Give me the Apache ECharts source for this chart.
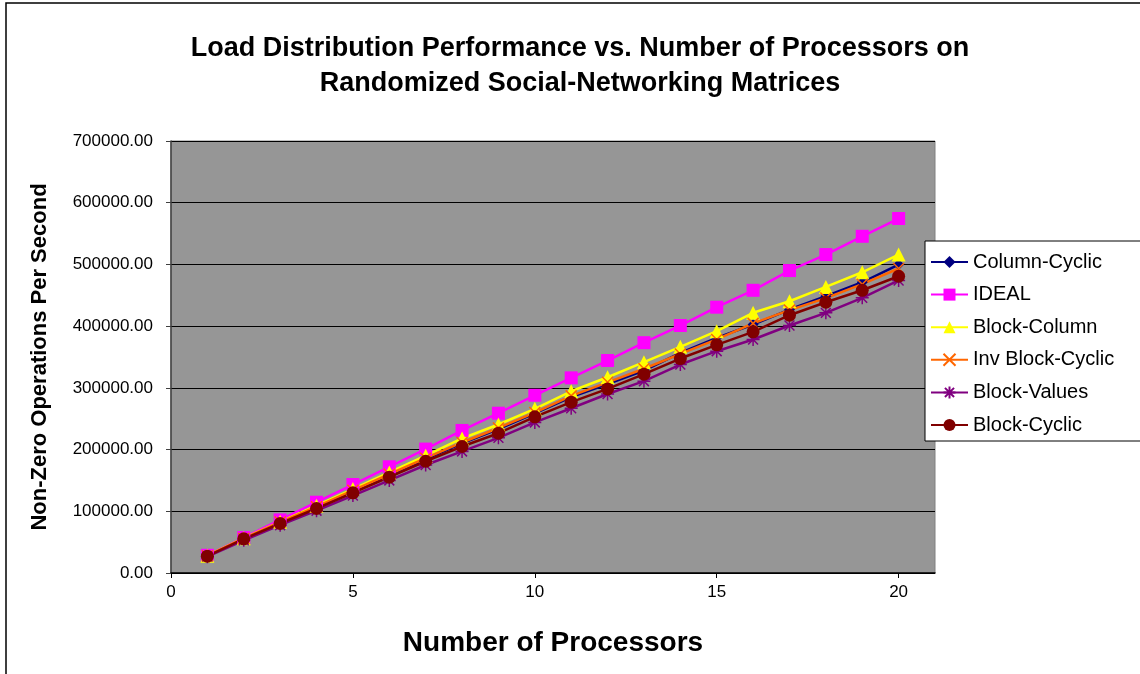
<!DOCTYPE html>
<html>
<head>
<meta charset="utf-8">
<script src="https://cdn.jsdelivr.net/npm/echarts@6/dist/echarts.min.js"></script>
<style>
  html, body { margin: 0; padding: 0; background: #ffffff; }
  #chart { width: 1140px; height: 674px; }
</style>
</head>
<body>
<div id="chart"></div>
<script>
// Processor counts (x values)
const processors = [1, 2, 3, 4, 5, 6, 7, 8, 9, 10, 11, 12, 13, 14, 15, 16, 17, 18, 19, 20];

// Non-zero operations per second for each distribution scheme
const columnCyclic = [27800, 55800, 81500, 106500, 132500, 158500, 184500, 210000, 233000, 258500,
                      285000, 306000, 328000, 356800, 381100, 402600, 426900, 448400, 471100, 499800];
const ideal = [28700, 57400, 86000, 114700, 143400, 172100, 200800, 231000, 258900, 288000,
               316200, 344300, 373200, 401000, 430700, 458100, 490100, 516000, 545600, 574400];
const blockColumn = [28000, 56500, 83000, 109000, 136000, 163000, 190000, 218000, 240600, 266000,
                     294500, 317200, 341600, 366500, 391800, 421600, 440300, 463600, 487300, 516000];
const invBlockCyclic = [28000, 56000, 82500, 107500, 134000, 160000, 186000, 211500, 235000, 260000,
                        287000, 309000, 331000, 355000, 378500, 404500, 426000, 445500, 468000, 493400];
const blockValues = [26500, 53000, 77500, 101000, 125500, 150000, 175000, 197000, 219000, 244000,
                     266900, 290000, 310800, 337800, 359400, 378300, 401000, 421500, 445900, 474000];
const blockCyclic = [27200, 55400, 80200, 104500, 129900, 155200, 181100, 205000, 226500, 253000,
                     276800, 298300, 322200, 347500, 369700, 390800, 417700, 438700, 458100, 480800];

const xTicks = [0, 5, 10, 15, 20];

const pair = arr => processors.map((p, i) => [p, arr[i]]);

const FONT = '"Liberation Sans", Arial, sans-serif';

// Stroke-only marker shapes
const crossPath = 'path://M0,0L10,10M10,0L0,10';
const starPath = 'path://M5,0L5,10M0,5L10,5M1.2,1.2L8.8,8.8M8.8,1.2L1.2,8.8';

function lineSeries(name, data, color, symbol, size, extra) {
  return Object.assign({
    name: name,
    type: 'line',
    data: pair(data),
    symbol: symbol,
    symbolSize: size,
    lineStyle: { color: color, width: 2.5 },
    itemStyle: { color: color, borderColor: color, borderWidth: 0 },
    emphasis: { disabled: true },
    animation: false
  }, extra || {});
}

const chart = echarts.init(document.getElementById('chart'), null, { renderer: 'canvas' });

chart.setOption({
  backgroundColor: '#ffffff',
  animation: false,
  title: {
    text: 'Load Distribution Performance vs. Number of Processors on\nRandomized Social-Networking Matrices',
    left: 575,
    top: 26,
    textAlign: 'center',
    textStyle: { fontFamily: FONT, fontSize: 27, fontWeight: 'bold', color: '#000', lineHeight: 35 }
  },
  legend: {
    orient: 'vertical',
    left: 925,
    top: 241,
    backgroundColor: '#ffffff',
    borderColor: '#000000',
    borderWidth: 1,
    padding: [11, 40, 6, 5],
    itemWidth: 37,
    itemHeight: 15,
    itemGap: 12.6,
    textStyle: { fontFamily: FONT, fontSize: 20, color: '#000' },
    data: ['Column-Cyclic', 'IDEAL', 'Block-Column', 'Inv Block-Cyclic', 'Block-Values', 'Block-Cyclic']
  },
  grid: {
    left: 171,
    right: 205,
    top: 141,
    bottom: 101,
    show: true,
    backgroundColor: '#969696',
    borderColor: '#808080',
    borderWidth: 1
  },
  xAxis: {
    type: 'value',
    min: 0,
    max: 21,
    interval: 5,
    name: 'Number of Processors',
    nameLocation: 'middle',
    nameGap: 56,
    nameTextStyle: { fontFamily: FONT, fontSize: 28, fontWeight: 'bold', color: '#000' },
    axisLine: { show: true, onZero: false, lineStyle: { color: '#000', width: 1.5 } },
    axisTick: { show: true, inside: false, length: 5, customValues: xTicks, lineStyle: { color: '#000' } },
    axisLabel: { customValues: xTicks, margin: 11, fontFamily: FONT, fontSize: 17, color: '#000' },
    splitLine: { show: false }
  },
  yAxis: {
    type: 'value',
    min: 0,
    max: 700000,
    interval: 100000,
    name: 'Non-Zero Operations Per Second',
    nameLocation: 'middle',
    nameGap: 120,
    nameRotate: 90,
    nameTextStyle: { fontFamily: FONT, fontSize: 22, fontWeight: 'bold', color: '#000' },
    axisLine: { show: true, lineStyle: { color: '#404040', width: 1.5 } },
    axisTick: { show: true, inside: false, length: 5, lineStyle: { color: '#404040' } },
    axisLabel: {
      margin: 18,
      fontFamily: FONT,
      fontSize: 17,
      color: '#000',
      formatter: v => v.toFixed(2)
    },
    splitLine: { show: true, lineStyle: { color: '#000', width: 1 } }
  },
  graphic: [{
    type: 'rect',
    shape: { x: 6, y: 3, width: 1150, height: 690 },
    style: { fill: null, stroke: '#000', lineWidth: 1.5 },
    silent: true,
    z: 100
  }],
  series: [
    lineSeries('Column-Cyclic', columnCyclic, '#000080', 'diamond', 11),
    lineSeries('IDEAL', ideal, '#ff00ff', 'rect', 13),
    lineSeries('Block-Column', blockColumn, '#ffff00', 'triangle', 14),
    lineSeries('Inv Block-Cyclic', invBlockCyclic, '#ff6600', crossPath, 11,
      { itemStyle: { color: 'none', borderColor: '#ff6600', borderWidth: 1.5 } }),
    lineSeries('Block-Values', blockValues, '#800080', starPath, 13,
      { itemStyle: { color: 'none', borderColor: '#800080', borderWidth: 1.5 } }),
    lineSeries('Block-Cyclic', blockCyclic, '#800000', 'circle', 13)
  ]
});
</script>
</body>
</html>
